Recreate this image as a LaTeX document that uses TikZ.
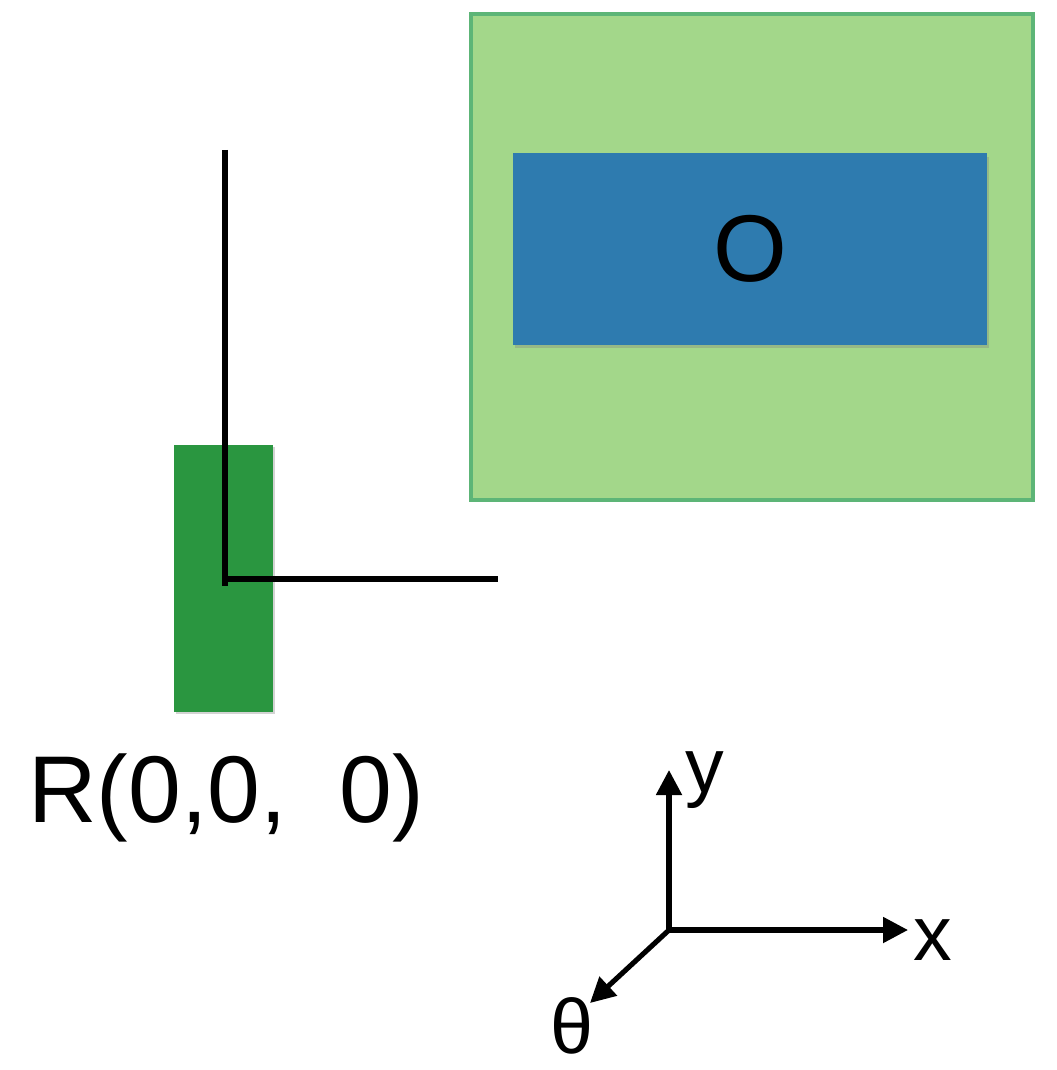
\documentclass[tikz,border=0pt]{standalone}
\usepackage{fontspec}
\setmainfont{Liberation Sans}
\usetikzlibrary{arrows.meta,shadows}
\definecolor{areagreen}{HTML}{A3D78A}
\definecolor{areaedge}{HTML}{5DB577}
\definecolor{objblue}{HTML}{2E7BAF}
\definecolor{robotgreen}{HTML}{2A9640}
\tikzset{
  workarea/.style={rectangle,draw=areaedge,fill=areagreen,line width=2.4pt,minimum width=11.24cm,minimum height=9.72cm},
  objbox/.style={rectangle,fill=objblue,minimum width=9.48cm,minimum height=3.84cm,inner sep=0pt,
    drop shadow={shadow xshift=1pt,shadow yshift=-2pt,opacity=0.35}},
  robotbox/.style={rectangle,fill=robotgreen,minimum width=1.98cm,minimum height=5.34cm,inner sep=0pt,
    drop shadow={shadow xshift=1pt,shadow yshift=-1pt,opacity=0.35}},
  bigtext/.style={font=\fontsize{54}{60}\selectfont,inner sep=0pt},
  axtext/.style={font=\fontsize{44}{50}\selectfont,inner sep=0pt},
  framepen/.style={line width=2.9pt,black},
  axispen/.style={line width=2.9pt,black,-{Triangle[length=0.5cm,width=0.5cm]}},
}

\begin{document}
\begin{tikzpicture}[x=0.02cm,y=-0.02cm]
  \useasboundingbox (0,0) rectangle (1056,1070);

  % workspace and object
  \node[workarea] (area) at (752,257) {};
  \node[objbox,bigtext] (obj) at (750,249) {O};

  % robot with its frame
  \node[robotbox] (robot) at (223.5,578.5) {};
  \coordinate (rc) at (225,579);
  \coordinate (rtop) at (225,150);
  \coordinate (rbot) at (225,586);
  \coordinate (rright) at (498,579);
  \draw[framepen] (rtop) -- (rbot);
  \draw[framepen] (rc) -- (rright);
  \node[bigtext,anchor=base west] (rlabel) at (28,822) {R(0,0,\ \ 0)};

  % axes
  \coordinate (orig) at (669,930);
  \coordinate (xend) at (908,930);
  \coordinate (yend) at (669,770);
  \coordinate (tend) at (590,1003);
  \draw[axispen] (orig) -- (xend);
  \draw[axispen] (orig) -- (yend);
  \draw[axispen] (orig) -- (tend);
  \node[axtext] (xlab) at (933,940) {x};
  \node[axtext] (ylab) at (705,780) {y};
  \node[axtext,anchor=north] (tlab) at (572,997) {θ};
\end{tikzpicture}
\end{document}
